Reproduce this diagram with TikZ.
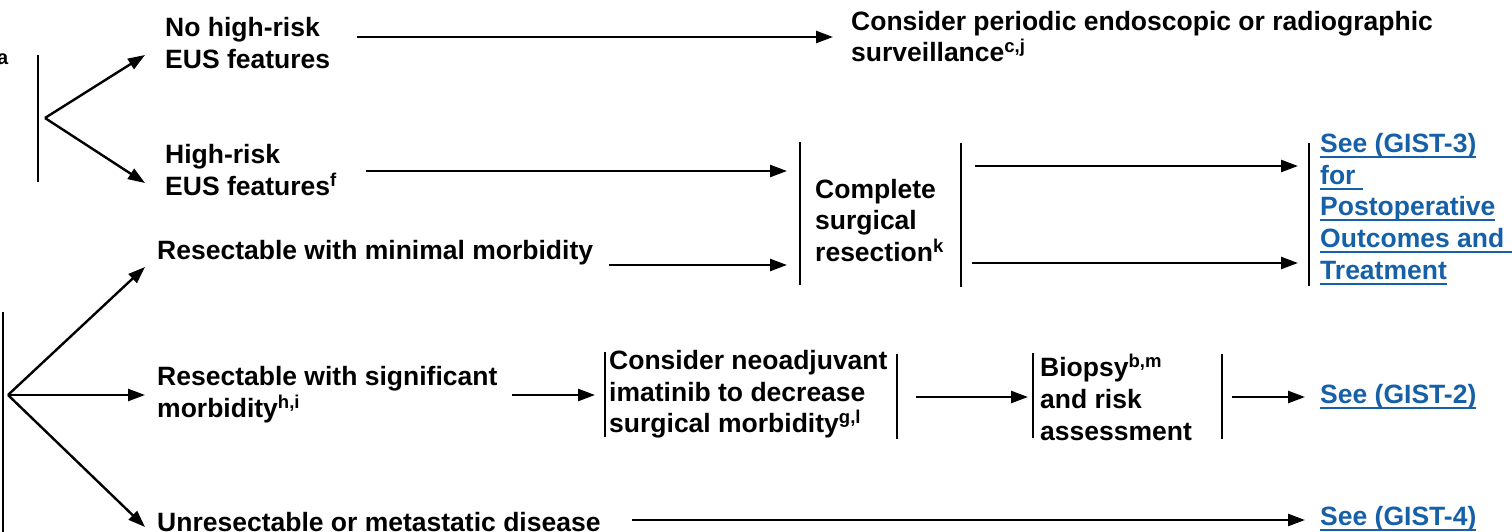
\documentclass[tikz,border=0pt]{standalone}
\usepackage{fontspec}
\setmainfont{Liberation Sans}
\usetikzlibrary{arrows.meta}
\definecolor{linkblue}{RGB}{22,96,168}
% link text with a thick underline a little below the baseline
\newcommand{\lnk}[1]{\setbox0\hbox{#1}\rlap{\rule[-5.5pt]{\wd0}{1.9pt}}\box0}
\begin{document}
\begin{tikzpicture}[x=1pt, y=-1pt,
  txt/.style={font=\fontsize{26.5}{31.7}\selectfont\bfseries, inner sep=0pt, align=left},
  link/.style={txt, text=linkblue},
  sup/.style={font=\fontsize{20}{22}\selectfont\bfseries, inner sep=0pt},
  arr/.style={line width=2.4pt, -{Triangle[length=17pt,width=12pt]}},
  bar/.style={line width=2.2pt}]
\useasboundingbox (0,0) rectangle (1512,532);

% ---- text nodes ----
\node[sup, anchor=base east] (a) at (8.5,65) {a};
\node[txt, anchor=west] (nohr) at (165,43) {No high-risk\\EUS features};
\node[txt, anchor=west] (hr) at (165,170) {High-risk\\EUS features\textsuperscript{f}};
\node[txt, anchor=west] (cons) at (851,36.5) {Consider periodic endoscopic or radiographic\\surveillance\textsuperscript{c,j}};
\node[txt, anchor=west] (compl) at (815,220.5) {Complete\\surgical\\resection\textsuperscript{k}};
\node[link, anchor=west] (gist3) at (1320,209) {\lnk{See (GIST-3)}\\\lnk{for\ }\\\lnk{Postoperative}\\\lnk{Outcomes and\ }\\\lnk{Treatment}};
\node[txt, anchor=base west] (rmin) at (157,259) {Resectable with minimal morbidity};
\node[txt, anchor=west] (rsig) at (157,394.5) {Resectable with significant\\morbidity\textsuperscript{h,i}};
\node[txt, anchor=west] (neo) at (609,394.5) {Consider neoadjuvant\\imatinib to decrease\\surgical morbidity\textsuperscript{g,l}};
\node[txt, anchor=west] (biop) at (1040,397.5) {Biopsy\textsuperscript{b,m}\\and risk\\assessment};
\node[link, anchor=base west] (gist2) at (1320,403) {\lnk{See (GIST-2)}};
\node[txt, anchor=base west] (unres) at (157,531) {Unresectable or metastatic disease};
\node[link, anchor=base west] (gist4) at (1320,525) {\lnk{See (GIST-4)}};

% ---- brackets ----
\coordinate (b1t) at (38,55);   \coordinate (b1b) at (38,182);
\coordinate (b2t) at (3,312);   \coordinate (b2b) at (3,540);
\coordinate (b3t) at (800,142); \coordinate (b3b) at (800,285);
\coordinate (b4t) at (961,143); \coordinate (b4b) at (961,287);
\coordinate (b5t) at (1309,143);\coordinate (b5b) at (1309,286);
\coordinate (b6t) at (605,352); \coordinate (b6b) at (605,437);
\coordinate (b7t) at (897,354); \coordinate (b7b) at (897,439);
\coordinate (b8t) at (1033,353);\coordinate (b8b) at (1033,438);
\coordinate (b9t) at (1222,354);\coordinate (b9b) at (1222,439);
\foreach \i in {1,...,9} \draw[bar] (b\i t) -- (b\i b);

% ---- fan-out points ----
\coordinate (f1) at (45,118);
\coordinate (f2) at (8,395);

% ---- arrow end points ----
\coordinate (e1) at (145,55);
\coordinate (e2) at (145,183);
\coordinate (e3) at (145,267);
\coordinate (e4) at (145,395);
\coordinate (e5) at (145,527);
\coordinate (s6) at (357,37);   \coordinate (e6) at (833,37);
\coordinate (s7) at (366,171);  \coordinate (e7) at (787,171);
\coordinate (s8) at (609,265);  \coordinate (e8) at (787,265);
\coordinate (s9) at (975,166);  \coordinate (e9) at (1298,166);
\coordinate (s10) at (972,263); \coordinate (e10) at (1298,263);
\coordinate (s11) at (512,395); \coordinate (e11) at (595,395);
\coordinate (s12) at (916,397); \coordinate (e12) at (1028,397);
\coordinate (s13) at (1232,397);\coordinate (e13) at (1305,397);
\coordinate (s14) at (632,520); \coordinate (e14) at (1305,520);

% ---- connectors ----
\draw[arr] (f1) -- (e1);
\draw[arr] (f1) -- (e2);
\draw[arr] (f2) -- (e3);
\draw[arr] (f2) -- (e4);
\draw[arr] (f2) -- (e5);
\foreach \i in {6,...,14} \draw[arr] (s\i) -- (e\i);
\end{tikzpicture}
\end{document}
